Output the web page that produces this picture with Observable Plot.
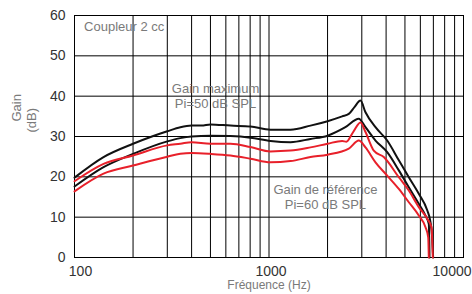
<!DOCTYPE html>
<html><head><meta charset="utf-8">
<script src="https://cdn.jsdelivr.net/npm/d3@7"></script>
<script src="https://cdn.jsdelivr.net/npm/@observablehq/plot@0.6"></script>
<style>
body{margin:0;background:#fff;}
svg{font-family:"Liberation Sans",Arial,sans-serif;}
</style>
</head><body><div id="chart"></div>
<script>
// Gain maximum (black, upper)
const freqMaxA = [100,141,200,250,300,350,400,450,500,634,803,1018,1290,1634,2000,2378,2572,2750,2953,3134,3528,4052,4650,5234,5891,6508,6750,6900,6980];
const gainMaxA = [19.8,24.9,28.2,30.0,31.3,32.3,32.7,32.7,33.0,32.7,32.5,31.7,31.7,32.7,33.8,35.0,35.6,37.3,38.9,36.0,32.3,29.0,24.1,19.9,15.8,11.7,9.0,5.0,0];
// Gain maximum (black, lower)
const freqMaxB = [100,141,200,300,350,400,500,634,803,1018,1290,1634,2000,2470,2895,3134,3528,4052,4650,5234,5891,6377,6633,6688];
const gainMaxB = [17.6,22.4,25.7,28.8,29.6,30.0,30.2,30.1,29.7,28.9,28.6,29.4,30.2,32.3,34.4,32.3,29.0,26.1,21.6,17.4,13.3,10.4,8.3,0];
// Gain de référence (red, upper)
const freqRefA = [100,141,200,300,350,400,500,634,803,1018,1290,1634,2000,2378,2500,2700,2953,3134,3458,3892,4650,5234,5891,6508,6847,6955];
const gainRefA = [18.9,23.2,25.3,27.8,28.2,28.6,28.2,28.2,27.4,26.3,26.5,27.3,28.2,28.9,28.7,31.0,33.5,31.1,26.5,24.9,19.9,16.6,12.5,9.6,7.5,0];
// Gain de référence (red, lower)
const freqRefB = [100,141,200,300,350,400,500,634,803,1018,1290,1634,2000,2572,2895,3134,3528,4052,4650,5234,5891,6377,6586,6633];
const gainRefB = [16.4,20.8,22.8,25.0,25.7,25.9,25.7,25.3,24.5,23.6,23.9,24.9,25.5,27.0,29.0,27.3,23.6,20.3,17.0,13.7,10.4,7.5,5.0,0];

const yTicks = [0,10,20,30,40,50,60];
const xGrid = [100,200,300,400,500,600,700,800,900,1000,2000,3000,4000,5000,6000,7000,8000,9000,10000];
const xLabelFirst = [100];
const xLabelMid = [1000];
const xLabelLast = [10000];

const toRows = (f, g) => f.map((x, i) => ({f: x, g: g[i]}));
const black = "#111";
const red = "#e8202a";
const gray = "#7a7a7a";

const lineOpts = {x: "f", y: "g", strokeWidth: 2, curve: "monotone-x"};
const tickText = {x: d => d, y: () => 0, text: d => String(d), dy: 14, fontSize: 14, fill: "#333"};

const chart = Plot.plot({
  width: 472, height: 294,
  marginLeft: 74, marginRight: 9, marginTop: 15, marginBottom: 37,
  x: {type: "log", domain: [100, 10000], axis: null},
  y: {domain: [0, 60], axis: null},
  marks: [
    Plot.ruleX(xGrid, {stroke: "#000", strokeWidth: 1}),
    Plot.ruleY(yTicks, {stroke: "#000", strokeWidth: 1}),
    Plot.frame({stroke: "#000", strokeWidth: 1}),
    Plot.line(toRows(freqMaxA, gainMaxA), {...lineOpts, stroke: black}),
    Plot.line(toRows(freqMaxB, gainMaxB), {...lineOpts, stroke: black}),
    Plot.line(toRows(freqRefA, gainRefA), {...lineOpts, stroke: red}),
    Plot.line(toRows(freqRefB, gainRefB), {...lineOpts, stroke: red}),
    Plot.axisY(yTicks, {tickSize: 0, tickPadding: 9, fontSize: 14, fill: "#333", label: null}),
    Plot.text(xLabelFirst, {...tickText, dx: 6}),
    Plot.text(xLabelMid, {...tickText, dx: 2}),
    Plot.text(xLabelLast, {...tickText, dx: 8, textAnchor: "end"}),
    Plot.text(["Fréquence (Hz)"], {frameAnchor: "bottom", dy: 31, fontSize: 12, fill: gray}),
    Plot.text(["Gain"], {frameAnchor: "left", dx: -58, dy: -15, rotate: -90, fontSize: 13, fill: gray}),
    Plot.text(["(dB)"], {frameAnchor: "left", dx: -43, dy: -4, rotate: -90, fontSize: 13, fill: gray}),
    Plot.text(["Coupleur 2 cc"], {x: () => 112, y: () => 57.3, textAnchor: "start", fontSize: 13, fill: gray}),
    Plot.text(["Gain maximum\nPi=50 dB SPL"], {x: () => 531, y: () => 40, fontSize: 13, lineHeight: 1.15, fill: gray}),
    Plot.text(["Gain de référence\nPi=60 dB SPL"], {x: () => 1950, y: () => 15, fontSize: 13, lineHeight: 1.15, fill: gray})
  ]
});
document.getElementById("chart").appendChild(chart);
</script>
</body></html>
